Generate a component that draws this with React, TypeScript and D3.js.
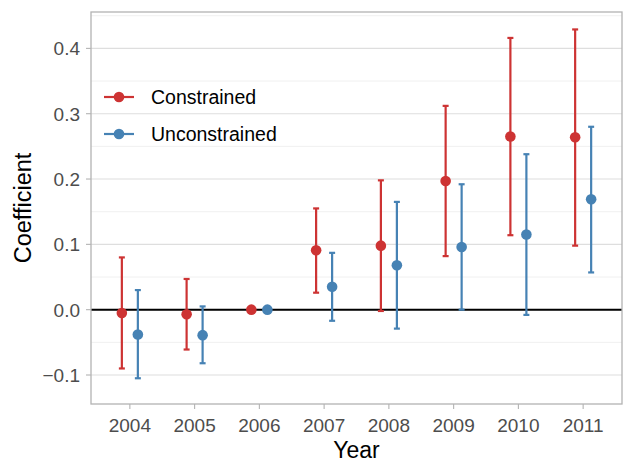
import * as d3 from "d3"

const years = ["2004", "2005", "2006", "2007", "2008", "2009", "2010", "2011"]
const groups = ["Constrained", "Unconstrained"]
const colors = ["#cd3333", "#4682b4"]

const constrainedEst = [-0.005, -0.007, 0, 0.091, 0.098, 0.197, 0.265, 0.264]
const constrainedLow = [-0.09, -0.061, 0, 0.026, -0.002, 0.082, 0.114, 0.098]
const constrainedHigh = [0.08, 0.047, 0, 0.155, 0.198, 0.312, 0.416, 0.429]

const unconstrainedEst = [-0.038, -0.039, 0, 0.035, 0.068, 0.096, 0.115, 0.169]
const unconstrainedLow = [-0.105, -0.082, 0, -0.017, -0.029, 0, -0.008, 0.057]
const unconstrainedHigh = [0.03, 0.005, 0, 0.087, 0.165, 0.192, 0.238, 0.28]

const yTicks = [-0.1, 0, 0.1, 0.2, 0.3, 0.4]
const yMinor = [-0.15, -0.05, 0.05, 0.15, 0.25, 0.35, 0.45]

const W = 634
const H = 476
const panel = { left: 91, right: 622, top: 12, bottom: 404 }
const font = "'Liberation Sans', Arial, sans-serif"

export default function App() {
  const x = d3.scalePoint<string>().domain(years).range([panel.left, panel.right]).padding(0.6)
  const y = d3.scaleLinear().domain([-0.1444, 0.4557]).range([panel.bottom, panel.top])
  const dodge = d3.scalePoint<string>().domain(groups).range([-8, 8])

  const series = [
    { name: groups[0], est: constrainedEst, lo: constrainedLow, hi: constrainedHigh, color: colors[0] },
    { name: groups[1], est: unconstrainedEst, lo: unconstrainedLow, hi: unconstrainedHigh, color: colors[1] },
  ]
  const fmt = (v: number) => (v < 0 ? "\u2212" : "") + d3.format(".1f")(Math.abs(v))

  return (
    <svg width={W} height={H} style={{ position: "absolute", left: 0, top: 0 }} fontFamily={font}>
      <rect x={0} y={0} width={W} height={H} fill="#fff" />
      {/* grid */}
      {yMinor.filter((v) => y(v) >= panel.top && y(v) <= panel.bottom).map((v) => (
        <line key={"m" + v} x1={panel.left} x2={panel.right} y1={y(v)} y2={y(v)} stroke="#f0f0f0" strokeWidth={1} />
      ))}
      {yTicks.map((v) => (
        <line key={"g" + v} x1={panel.left} x2={panel.right} y1={y(v)} y2={y(v)} stroke="#dedede" strokeWidth={1.1} />
      ))}
      {/* zero line */}
      <line x1={panel.left} x2={panel.right} y1={y(0)} y2={y(0)} stroke="#000" strokeWidth={2} />

      {/* error bars and points */}
      {series.map((s) =>
        years.map((yr, i) => {
          const cx = (x(yr) || 0) + (dodge(s.name) || 0)
          const hasCi = s.hi[i] !== s.lo[i]
          return (
            <g key={s.name + yr}>
              {hasCi && (
                <g stroke={s.color} strokeWidth={2.2}>
                  <line x1={cx} x2={cx} y1={y(s.lo[i])} y2={y(s.hi[i])} />
                  <line x1={cx - 3} x2={cx + 3} y1={y(s.lo[i])} y2={y(s.lo[i])} />
                  <line x1={cx - 3} x2={cx + 3} y1={y(s.hi[i])} y2={y(s.hi[i])} />
                </g>
              )}
              <circle cx={cx} cy={y(s.est[i])} r={5.3} fill={s.color} />
            </g>
          )
        })
      )}

      {/* panel border */}
      <rect x={panel.left} y={panel.top} width={panel.right - panel.left} height={panel.bottom - panel.top}
        fill="none" stroke="#b3b3b3" strokeWidth={1.3} />

      {/* y axis */}
      {yTicks.map((v) => (
        <g key={"yt" + v}>
          <line x1={panel.left - 5} x2={panel.left} y1={y(v)} y2={y(v)} stroke="#b3b3b3" strokeWidth={1.1} />
          <text x={panel.left - 11} y={y(v)} dy="0.36em" textAnchor="end" fontSize={19} fill="#4d4d4d">{fmt(v)}</text>
        </g>
      ))}
      {/* x axis */}
      {years.map((yr) => (
        <g key={"xt" + yr}>
          <line x1={x(yr)} x2={x(yr)} y1={panel.bottom} y2={panel.bottom + 5} stroke="#b3b3b3" strokeWidth={1.1} />
          <text x={x(yr)} y={panel.bottom + 28} textAnchor="middle" fontSize={19} fill="#4d4d4d">{yr}</text>
        </g>
      ))}

      <text x={(panel.left + panel.right) / 2} y={458} textAnchor="middle" fontSize={23} fill="#000">Year</text>
      <text transform={`translate(31,${(panel.top + panel.bottom) / 2}) rotate(-90)`} textAnchor="middle" fontSize={23.5} fill="#000">Coefficient</text>

      {/* legend */}
      {series.map((s, i) => {
        const ly = 97 + i * 37
        return (
          <g key={"lg" + s.name}>
            <line x1={104} x2={134} y1={ly} y2={ly} stroke={s.color} strokeWidth={2.2} />
            <circle cx={119} cy={ly} r={5.3} fill={s.color} />
            <text x={151} y={ly} dy="0.36em" fontSize={19.5} fill="#000">{s.name}</text>
          </g>
        )
      })}
    </svg>
  )
}
